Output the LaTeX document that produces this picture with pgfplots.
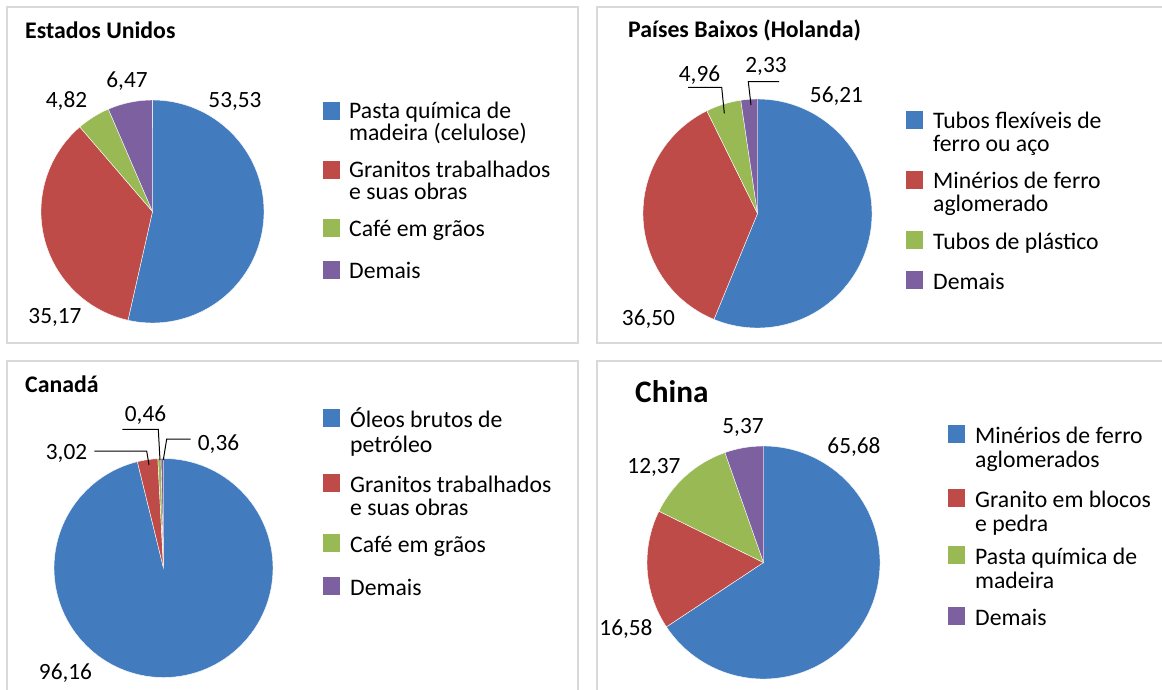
\documentclass[border=0pt]{standalone}
\usepackage{pgfplots}
\pgfplotsset{compat=1.18}
\usepackage{fontspec}
\setmainfont{Carlito}

\definecolor{sBlue}{HTML}{437CBE}
\definecolor{sRed}{HTML}{BE4B48}
\definecolor{sGreen}{HTML}{98B954}
\definecolor{sPurple}{HTML}{7D60A0}
\definecolor{frameGray}{HTML}{D9D9D9}

\pgfplotsset{
  pie/.style={hide axis, anchor=origin, x=1pt, y=1pt,
    xmin=-125, xmax=125, ymin=-125, ymax=125, clip=false},
}

% one slice: colour, start (%), share (%), radius (pt); clockwise from 12 o'clock
\newcommand\slice[4]{%
  \pgfmathsetmacro\sa{90-3.6*#2}\pgfmathsetmacro\da{-3.6*#3}%
  \edef\doslice{\noexpand\addplot[fill=#1, draw=white, line width=0.4pt]
    coordinates {(0,0)} -- ++(\sa:#4pt)
    arc[start angle=\sa, delta angle=\da, radius=#4pt] -- cycle;}%
  \doslice}

\tikzset{
  frame/.style={draw=frameGray, line width=1.2pt},
  lab/.style={anchor=base, inner sep=0pt, font=\fontsize{23.3}{24}\selectfont},
  leg/.style={anchor=base west, inner sep=0pt, font=\fontsize{23.7}{24}\selectfont},
  ttl/.style={anchor=base west, inner sep=0pt, font=\bfseries\fontsize{23.8}{26}\selectfont},
  lead/.style={draw=black, line width=1pt},
}

% legend square: colour, x, baseline
\newcommand\legsq[3]{\fill[#1] (#2,#3-18) rectangle (#2+17,#3);}

\begin{document}
\begin{tikzpicture}
\path[use as bounding box, clip] (0pt,0pt) rectangle (1162pt,-690pt);
\begin{scope}[x=1pt,y=-1pt]
  \fill[white] (0,0) rectangle (1162,690);
  \draw[frame] (7,7) rectangle (578,343);
  \draw[frame] (597,7) rectangle (1175,343);
  \draw[frame] (7,361) rectangle (578,705);
  \draw[frame] (597,361) rectangle (1175,705);
\end{scope}

% Estados Unidos
\begin{axis}[pie, at={(152.5pt,-211.5pt)}]
  \slice{sBlue}{0}{53.53}{111.5}
  \slice{sRed}{53.53}{35.17}{111.5}
  \slice{sGreen}{88.70}{4.82}{111.5}
  \slice{sPurple}{93.52}{6.47}{111.5}
\end{axis}

% Paises Baixos
\begin{axis}[pie, at={(757.5pt,-213.5pt)}]
  \slice{sBlue}{0}{56.21}{114.5}
  \slice{sRed}{56.21}{36.50}{114.5}
  \slice{sGreen}{92.71}{4.96}{114.5}
  \slice{sPurple}{97.67}{2.33}{114.5}
\end{axis}

% Canada
\begin{axis}[pie, at={(163.5pt,-568pt)}]
  \slice{sBlue}{0}{96.16}{109.5}
  \slice{sRed}{96.16}{3.02}{109.5}
  \slice{sGreen}{99.18}{0.46}{109.5}
  \slice{sPurple}{99.64}{0.36}{109.5}
\end{axis}

% China
\begin{axis}[pie, at={(763.5pt,-562.5pt)}]
  \slice{sBlue}{0}{65.68}{116.5}
  \slice{sRed}{65.68}{16.58}{116.5}
  \slice{sGreen}{82.26}{12.37}{116.5}
  \slice{sPurple}{94.63}{5.37}{116.5}
\end{axis}

\begin{scope}[x=1pt,y=-1pt]
  % titles
  \node[ttl] at (25,39) {Estados Unidos};
  \node[ttl] at (628,38) {Países Baixos (Holanda)};
  \node[ttl] at (25,392) {Canadá};
  \node[ttl, font=\bfseries\fontsize{31.3}{33}\selectfont] at (635,402) {China};

  % value labels
  \node[lab] at (235,108) {53,53};
  \node[lab] at (55,323) {35,17};
  \node[lab] at (66.5,108) {4,82};
  \node[lab] at (127,88) {6,47};

  \node[lab] at (836.5,103) {56,21};
  \node[lab] at (648.5,325) {36,50};
  \node[lab] at (699.5,82) {4,96};
  \node[lab] at (766,73) {2,33};
  \draw[lead] (688,87.3) -- (721.7,87.3) -- (724.3,113.3);
  \draw[lead] (779,81.7) -- (748.3,81.7) -- (751,105);

  \node[lab] at (65.5,679) {96,16};
  \node[lab] at (66.5,459) {3,02};
  \node[lab] at (145.5,421.7) {0,46};
  \node[lab] at (218.5,450) {0,36};
  \draw[lead] (94.3,451) -- (146.7,451) -- (149,465);
  \draw[lead] (122.3,429.3) -- (158.3,429.3) -- (160,460);
  \draw[lead] (190.7,439) -- (166.7,439) -- (163.3,460);

  \node[lab] at (854,453) {65,68};
  \node[lab] at (626,635) {16,58};
  \node[lab] at (654,473) {12,37};
  \node[lab] at (743,433) {5,37};

  % legend: Estados Unidos
  \legsq{sBlue}{323}{120}   \node[leg] at (349,119) {Pasta química de};
                            \node[leg] at (349,141) {madeira (celulose)};
  \legsq{sRed}{323}{179}    \node[leg] at (349,178) {Granitos trabalhados};
                            \node[leg] at (349,200) {e suas obras};
  \legsq{sGreen}{323}{237}  \node[leg] at (349,236) {Café em grãos};
  \legsq{sPurple}{323}{279} \node[leg] at (349,278) {Demais};

  % legend: Paises Baixos
  \legsq{sBlue}{906}{129}   \node[leg] at (933,129) {Tubos flexíveis de};
                            \node[leg] at (933,152) {ferro ou aço};
  \legsq{sRed}{906}{189}    \node[leg] at (933,189) {Minérios de ferro};
                            \node[leg] at (933,211) {aglomerado};
  \legsq{sGreen}{906}{249}  \node[leg] at (933,249) {Tubos de plástico};
  \legsq{sPurple}{906}{289} \node[leg] at (933,289) {Demais};

  % legend: Canada
  \legsq{sBlue}{323}{427}   \node[leg] at (350,427) {Óleos brutos de};
                            \node[leg] at (350,452) {petróleo};
  \legsq{sRed}{323}{492}    \node[leg] at (350,492) {Granitos trabalhados};
                            \node[leg] at (350,515) {e suas obras};
  \legsq{sGreen}{323}{552}  \node[leg] at (350,552) {Café em grãos};
  \legsq{sPurple}{323}{595} \node[leg] at (350,595) {Demais};

  % legend: China
  \legsq{sBlue}{948}{443}   \node[leg] at (975,443) {Minérios de ferro};
                            \node[leg] at (975,467) {aglomerados};
  \legsq{sRed}{948}{507}    \node[leg] at (975,507) {Granito em blocos};
                            \node[leg] at (975,531) {e pedra};
  \legsq{sGreen}{948}{564}  \node[leg] at (975,564) {Pasta química de};
                            \node[leg] at (975,588) {madeira};
  \legsq{sPurple}{948}{625} \node[leg] at (975,625) {Demais};
\end{scope}
\end{tikzpicture}
\end{document}
